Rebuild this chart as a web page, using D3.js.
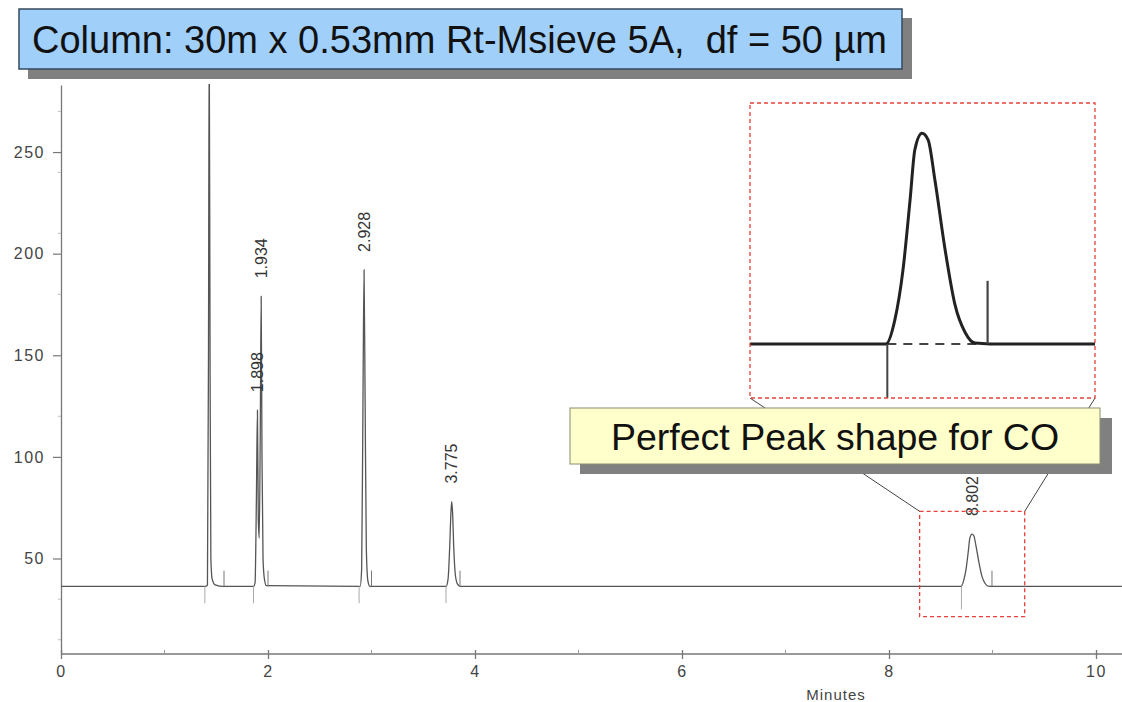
<!DOCTYPE html>
<html><head><meta charset="utf-8">
<script src="https://cdn.jsdelivr.net/npm/d3@7"></script>
<style>
body{margin:0;background:#fff;}
svg{display:block;font-family:"Liberation Sans",Arial,sans-serif;}
</style>
</head><body>
<svg id="c" width="1122" height="702"></svg>
<script>
// ---- data ----
const traceTimes = [
  0, 1.40, 1.415, 1.425, 1.432, 1.44, 1.448, 1.46, 1.49, 1.55,
  1.86, 1.875, 1.888, 1.898, 1.906, 1.915, 1.925, 1.934, 1.942, 1.952, 1.965, 1.985,
  2.89, 2.905, 2.918, 2.928, 2.938, 2.95, 2.965, 2.985,
  3.72, 3.74, 3.755, 3.768, 3.775, 3.783, 3.795, 3.81, 3.83, 3.855,
  8.696, 8.722, 8.746, 8.767, 8.781, 8.802, 8.820, 8.840, 8.870, 8.899, 8.929, 8.958, 9.002,
  10.25
];
const traceValues = [
  36.3, 36.3, 37, 150, 310, 150, 50, 40, 37, 36.3,
  36.3, 38, 80, 123, 70, 60, 110, 179, 100, 50, 40, 36.6,
  36.3, 45, 130, 192, 130, 55, 39, 36.3,
  36.3, 40, 55, 73, 78, 73, 55, 42, 37.5, 36.3,
  36.3, 39.2, 45.3, 53.9, 60, 62, 61.2, 56.3, 47.8, 41.1, 37.7, 36.4, 36.3,
  36.3
];
const peakTimes   = [1.898, 1.934, 2.928, 3.775, 8.802];
const peakHeights = [123, 179, 192, 78, 62];
const peakLabels  = ["1.898", "1.934", "2.928", "3.775", "8.802"];
const startMarkers = [1.39, 1.86, 2.88, 3.72, 8.70];
const startMarkerLow = [28, 28, 28, 28, 25];
const endMarkers   = [1.575, 2.0, 3.0, 3.855, 8.995];
const endMarkerHigh = 44;
const baselineValue = 36.3;
const xTicks = [0, 2, 4, 6, 8, 10];
const xMinorTicks = [1, 3, 5, 7, 9];
const yTicks = [50, 100, 150, 200, 250];
const yMinorTicks = [10, 30, 120, 180, 210, 240, 270];
const zoomTimes = [8.296, 9.311];
const zoomValues = [21.4, 73.2];
const insetValues = [29.7, 65.7];
const coPeakIndex = 4;
const titleText = "Column: 30m x 0.53mm Rt-Msieve 5A,  df = 50 \u00b5m";
const calloutText = "Perfect Peak shape for CO";
const xAxisTitle = "Minutes";

// ---- drawing ----
const svg = d3.select("#c");
const x = d3.scaleLinear().domain([0, 10]).range([61, 1096]);
const y = d3.scaleLinear().domain([3, 283]).range([654, 85]);
const pts = traceTimes.map((t, i) => [t, traceValues[i]]);

svg.append("defs").append("clipPath").attr("id", "plotClip")
  .append("rect").attr("x", 61).attr("y", 84).attr("width", 1061).attr("height", 570);

// y axis
const yAx = svg.append("g").attr("transform", "translate(61,0)")
  .call(d3.axisLeft(y).tickValues(yTicks).tickSize(8).tickSizeOuter(0).tickPadding(8));
yAx.select(".domain").attr("stroke", "#777").attr("stroke-width", 1.3);
yAx.selectAll(".tick line").attr("stroke", "#777").attr("stroke-width", 1.2);
yAx.selectAll(".tick text").attr("fill", "#444").style("font-size", "16px").style("letter-spacing", "1.5px")
  .style("font-family", "'Liberation Sans',Arial,sans-serif");
svg.append("g").selectAll("line").data(yMinorTicks).join("line")
  .attr("x1", 58).attr("x2", 61).attr("y1", d => y(d)).attr("y2", d => y(d))
  .attr("stroke", "#bbb").attr("stroke-width", 1);

// x axis
svg.append("line").attr("x1", 61).attr("x2", 1122).attr("y1", 654).attr("y2", 654)
  .attr("stroke", "#777").attr("stroke-width", 1.6);
const xAx = svg.append("g").attr("transform", "translate(0,654)")
  .call(d3.axisBottom(x).tickValues(xTicks).tickSize(5).tickSizeOuter(0).tickPadding(7));
xAx.select(".domain").remove();
xAx.selectAll(".tick line").attr("stroke", "#777").attr("stroke-width", 1.3).attr("y1", -4);
xAx.selectAll(".tick text").attr("fill", "#444").style("font-size", "16px").style("letter-spacing", "1.5px")
  .style("font-family", "'Liberation Sans',Arial,sans-serif");
svg.append("g").selectAll("line").data(xMinorTicks).join("line")
  .attr("x1", d => x(d)).attr("x2", d => x(d)).attr("y1", 650).attr("y2", 654)
  .attr("stroke", "#999").attr("stroke-width", 1);
svg.append("text").attr("x", 836).attr("y", 700).attr("text-anchor", "middle")
  .attr("fill", "#444").style("font-size", "15px").style("letter-spacing", "1px").text(xAxisTitle);

// main trace
const line = d3.line().x(d => x(d[0])).y(d => y(d[1])).curve(d3.curveMonotoneX);
const plot = svg.append("g").attr("clip-path", "url(#plotClip)");
plot.append("path").datum(pts).attr("d", line)
  .attr("fill", "none").attr("stroke", "#555").attr("stroke-width", 1.3);

// integration markers
plot.selectAll(".sm").data(startMarkers).join("line").attr("class", "sm")
  .attr("x1", d => x(d)).attr("x2", d => x(d))
  .attr("y1", y(baselineValue)).attr("y2", (d, i) => y(startMarkerLow[i]))
  .attr("stroke", "#aaa").attr("stroke-width", 1);
plot.selectAll(".em").data(endMarkers).join("line").attr("class", "em")
  .attr("x1", d => x(d)).attr("x2", d => x(d))
  .attr("y1", y(baselineValue)).attr("y2", y(endMarkerHigh))
  .attr("stroke", "#777").attr("stroke-width", 1);

// peak labels
svg.selectAll(".pl").data(peakTimes).join("text").attr("class", "pl")
  .attr("transform", (d, i) => `translate(${x(d)},${y(peakHeights[i]) - 18}) rotate(-90)`)
  .attr("dy", "0.35em").attr("text-anchor", "start")
  .attr("fill", "#333").style("font-size", "16px")
  .text((d, i) => peakLabels[i]);

// zoom window in main chart
const zx0 = x(zoomTimes[0]), zx1 = x(zoomTimes[1]);
const zy0 = y(zoomValues[1]), zy1 = y(zoomValues[0]);
svg.append("rect").attr("x", zx0).attr("y", zy0).attr("width", zx1 - zx0).attr("height", zy1 - zy0)
  .attr("fill", "none").attr("stroke", "#e8403a").attr("stroke-width", 1.3).attr("stroke-dasharray", "4,3");

// inset
const inset = {x0: 750, x1: 1095, y0: 103, y1: 398};
const ix = d3.scaleLinear().domain(zoomTimes).range([inset.x0, inset.x1]);
const iy = d3.scaleLinear().domain(insetValues).range([inset.y1, inset.y0]);

// connector lines
svg.append("line").attr("x1", zx0).attr("y1", zy0).attr("x2", inset.x0).attr("y2", inset.y1)
  .attr("stroke", "#444").attr("stroke-width", 1);
svg.append("line").attr("x1", zx1).attr("y1", zy0).attr("x2", inset.x1).attr("y2", inset.y1)
  .attr("stroke", "#444").attr("stroke-width", 1);

svg.select("defs").append("clipPath").attr("id", "insetClip")
  .append("rect").attr("x", inset.x0).attr("y", inset.y0)
  .attr("width", inset.x1 - inset.x0).attr("height", inset.y1 - inset.y0);
svg.append("rect").attr("x", inset.x0).attr("y", inset.y0)
  .attr("width", inset.x1 - inset.x0).attr("height", inset.y1 - inset.y0).attr("fill", "#fff");
const ig = svg.append("g").attr("clip-path", "url(#insetClip)");
const iline = d3.line().x(d => ix(d[0])).y(d => iy(d[1])).curve(d3.curveMonotoneX);
ig.append("line").attr("x1", ix(startMarkers[coPeakIndex])).attr("x2", ix(endMarkers[coPeakIndex]))
  .attr("y1", iy(baselineValue)).attr("y2", iy(baselineValue))
  .attr("stroke", "#444").attr("stroke-width", 2).attr("stroke-dasharray", "9,7");
ig.append("path").datum(pts)
  .attr("d", iline).attr("fill", "none").attr("stroke", "#222").attr("stroke-width", 3)
  .attr("stroke-linejoin", "round");
ig.append("line").attr("x1", ix(startMarkers[coPeakIndex])).attr("x2", ix(startMarkers[coPeakIndex]))
  .attr("y1", iy(baselineValue)).attr("y2", iy(startMarkerLow[coPeakIndex]))
  .attr("stroke", "#444").attr("stroke-width", 2);
ig.append("line").attr("x1", ix(endMarkers[coPeakIndex])).attr("x2", ix(endMarkers[coPeakIndex]))
  .attr("y1", iy(baselineValue)).attr("y2", iy(endMarkerHigh))
  .attr("stroke", "#444").attr("stroke-width", 2.2);
svg.append("rect").attr("x", inset.x0).attr("y", inset.y0)
  .attr("width", inset.x1 - inset.x0).attr("height", inset.y1 - inset.y0)
  .attr("fill", "none").attr("stroke", "#e8403a").attr("stroke-width", 1.3).attr("stroke-dasharray", "4,3");

// callout
svg.append("rect").attr("x", 580).attr("y", 418).attr("width", 532).attr("height", 56).attr("fill", "#808080");
svg.append("rect").attr("x", 570).attr("y", 408).attr("width", 530).attr("height", 56)
  .attr("fill", "#ffffcc").attr("stroke", "#8a8a70").attr("stroke-width", 1);
svg.append("text").attr("x", 835).attr("y", 450).attr("text-anchor", "middle")
  .attr("fill", "#111").style("font-size", "37.5px").text(calloutText);

// title
svg.append("rect").attr("x", 28).attr("y", 18).attr("width", 884).attr("height", 61).attr("fill", "#808080");
svg.append("rect").attr("x", 19).attr("y", 9).attr("width", 883).attr("height", 60)
  .attr("fill", "#a0cffa").attr("stroke", "#34495e").attr("stroke-width", 1.5);
svg.append("text").attr("x", 32).attr("y", 53).attr("fill", "#111")
  .attr("xml:space", "preserve").style("white-space", "pre")
  .style("font-size", "38px").text(titleText);
</script>
</body></html>
